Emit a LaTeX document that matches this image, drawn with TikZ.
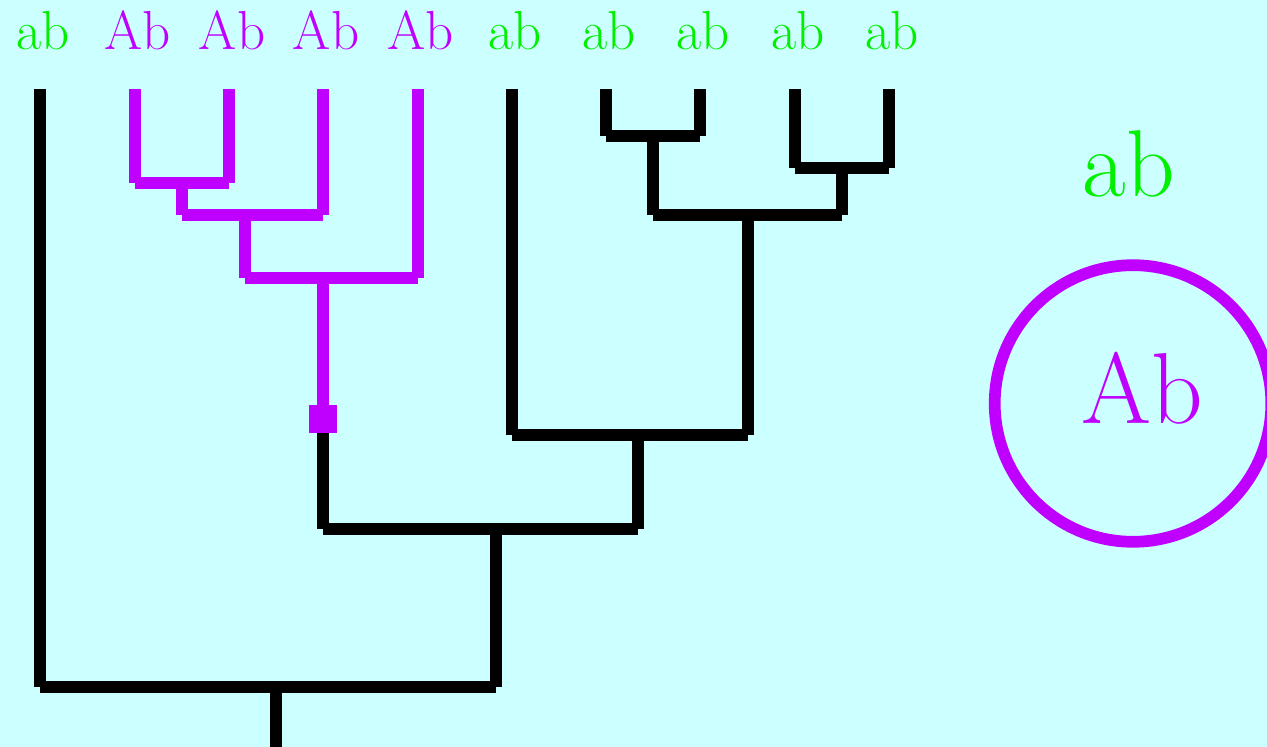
\documentclass[tikz,border=0pt]{standalone}
\definecolor{bgc}{HTML}{CCFFFF}
\definecolor{mag}{HTML}{BF00FF}
\definecolor{grn}{HTML}{00F000}
\begin{document}
\begin{tikzpicture}[x=0.5pt,y=-0.5pt,line cap=butt,
  blk/.style={draw=black,line width=6pt},
  mgl/.style={draw=mag,line width=6pt},
  lab/.style={anchor=base,inner sep=0pt,font=\fontsize{27.5pt}{30pt}\selectfont},
  gl/.style={lab,text=grn},
  ml/.style={lab,text=mag}]
\fill[bgc] (0,0) rectangle (1267,747);
\useasboundingbox (0,0) rectangle (1267,747);
% leaves
\foreach \i/\x in {0/40,1/134.5,2/229,3/323,4/417.5,5/512,6/606,7/700,8/795,9/889}{
  \coordinate (L\i) at (\x,89);
}
% labels
\node[gl] (t0) at (43,50) {ab};
\node[ml] (t1) at (137.5,50) {Ab};
\node[ml] (t2) at (232,50) {Ab};
\node[ml] (t3) at (326,50) {Ab};
\node[ml] (t4) at (420.5,50) {Ab};
\node[gl] (t5) at (515,50) {ab};
\node[gl] (t6) at (609,50) {ab};
\node[gl] (t7) at (703,50) {ab};
\node[gl] (t8) at (798,50) {ab};
\node[gl] (t9) at (892,50) {ab};
% junctions
\coordinate (m1) at (181.5,183);
\coordinate (m2) at (244.5,215);
\coordinate (m3) at (323,278);
\coordinate (b1) at (653,136);
\coordinate (b2) at (842,168);
\coordinate (b3) at (748,215);
\coordinate (b4) at (637.5,435);
\coordinate (b5) at (496,529);
\coordinate (b6) at (276,686.5);
\coordinate (rt) at (276,747);
% magenta subtree
\draw[mgl] (L1) -- (L1 |- m1);
\draw[mgl] (L2) -- (L2 |- m1);
\draw[mgl] (L1 |- m1) -- (L2 |- m1);
\draw[mgl] (m1) -- (m1 |- m2);
\draw[mgl] (L3) -- (L3 |- m2);
\draw[mgl] (m1 |- m2) -- (L3 |- m2);
\draw[mgl] (m2) -- (m2 |- m3);
\draw[mgl] (L4) -- (L4 |- m3);
\draw[mgl] (m2 |- m3) -- (L4 |- m3);
\node[fill=mag,minimum size=13.75pt,inner sep=0pt] (sq) at (323,419) {};
\draw[mgl] (m3) -- (sq.north);
% black right subtree
\draw[blk] (L6) -- (L6 |- b1);
\draw[blk] (L7) -- (L7 |- b1);
\draw[blk] (L6 |- b1) -- (L7 |- b1);
\draw[blk] (L8) -- (L8 |- b2);
\draw[blk] (L9) -- (L9 |- b2);
\draw[blk] (L8 |- b2) -- (L9 |- b2);
\draw[blk] (b1) -- (b1 |- b3);
\draw[blk] (b2) -- (b2 |- b3);
\draw[blk] (b1 |- b3) -- (b2 |- b3);
\draw[blk] (b3) -- (b3 |- b4);
\draw[blk] (L5) -- (L5 |- b4);
\draw[blk] (L5 |- b4) -- (b3 |- b4);
\draw[blk] (b4) -- (b4 |- b5);
\draw[blk] (sq.south) -- (sq |- b5);
\draw[blk] (sq |- b5) -- (b4 |- b5);
\draw[blk] (b5) -- (b5 |- b6);
\draw[blk] (L0) -- (L0 |- b6);
\draw[blk] (L0 |- b6) -- (b5 |- b6);
\draw[blk] (b6) -- (rt);
% right side
\node[anchor=base,inner sep=0pt,text=grn,font=\fontsize{47.5pt}{50pt}\selectfont] (big) at (1129,196.7) {ab};
\node[circle,draw=mag,line width=5.85pt,minimum size=138.3pt,inner sep=0pt] (circ) at (1133,403.5) {};
\node[anchor=base,inner sep=0pt,text=mag,font=\fontsize{50.5pt}{53pt}\selectfont] (inner) at (1142,423.3) {Ab};
\end{tikzpicture}
\end{document}
